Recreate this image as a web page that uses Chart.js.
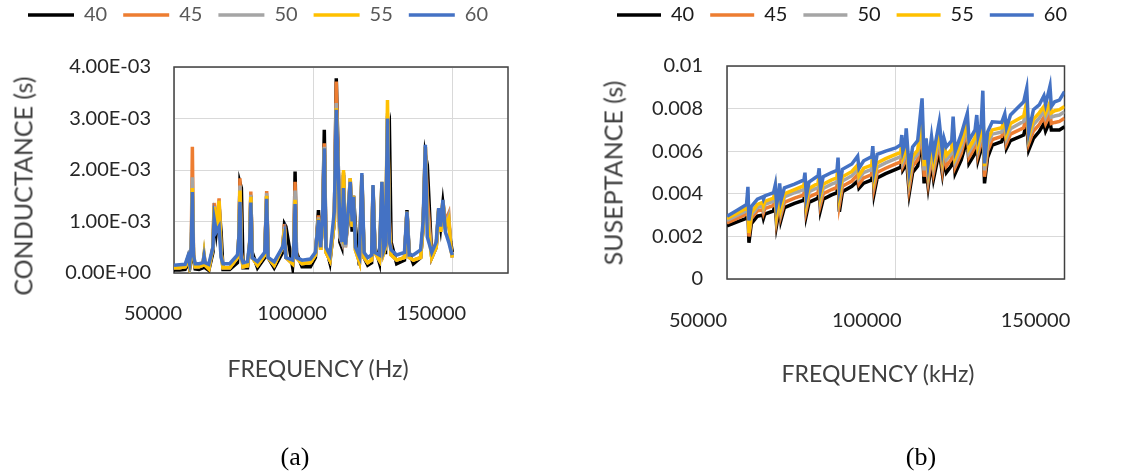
<!DOCTYPE html>
<html>
<head>
<meta charset="utf-8">
<title>Conductance and susceptance spectra</title>
<script src="https://cdn.jsdelivr.net/npm/chart.js@4.4.1/dist/chart.umd.min.js"></script>
<style>
  body { margin: 0; background: #fff; }
  #page { position: relative; width: 1129px; height: 475px; overflow: hidden; font-family: Lato, sans-serif; }
  canvas { position: absolute; top: -11px; }
  #chart-a { left: 0; }
  #chart-b { left: 560px; }
  .axis-title { position: absolute; color: #404040; font-size: 23px; line-height: 1; white-space: nowrap; transform: translate(-50%, -50%); }
  .axis-title.vertical { font-size: 25px; transform: translate(-50%, -50%) rotate(-90deg); }
  .caption { position: absolute; font-family: "Liberation Serif", serif; font-size: 26px; line-height: 1; color: #000; transform: translate(-50%, -50%); }
</style>
</head>
<body>
<div id="page">
  <canvas id="chart-a" width="560" height="486"></canvas>
  <canvas id="chart-b" width="569" height="486"></canvas>
  <div class="axis-title vertical" style="left:23px;top:186px">CONDUCTANCE (s)</div>
  <div class="axis-title" style="left:318px;top:368px">FREQUENCY (Hz)</div>
  <div class="caption" style="left:295px;top:457px">(a)</div>
  <div class="axis-title vertical" style="left:613px;top:173px">SUSEPTANCE (s)</div>
  <div class="axis-title" style="left:878px;top:373px">FREQUENCY (kHz)</div>
  <div class="caption" style="left:921px;top:457px">(b)</div>
</div>
<script>
// --- data (values in mS, i.e. 1E-03 s) ---

const SERIES_LABELS = ['40', '45', '50', '55', '60'];
const SERIES_COLORS = ['#000000', '#ED7D31', '#A5A5A5', '#FFC000', '#4472C4'];

// (a) conductance
const freqA = [
  50000, 52000, 54000, 55000, 55600, 56200, 56600, 57000, 57600, 59000,
  60400, 60800, 61200, 62500, 64000, 64400, 65200, 66200, 66900, 67600,
  70000, 72800, 73300, 73700, 74200, 74800, 76400, 77200, 77600, 78100,
  80000, 82600, 83300, 83800, 86000, 89000, 89700, 90200, 92600, 93100,
  93500, 94000, 96000, 99000, 100800, 101900, 102700, 103400, 104000, 104600,
  106000, 107600, 108300, 108900, 109600, 110300, 110900, 111600, 112600, 113300,
  114000, 114500, 115200, 116600, 117500, 118300, 119600, 121000, 121500, 122200,
  123800, 124700, 125400, 126000, 126700, 127400, 128000, 130000, 132800, 133700,
  134500, 136000, 138600, 139500, 140300, 141000, 142600, 144200, 145100, 145800,
  146600, 147500, 148700, 149400, 150000
];
const conductance40 = [
  0.06, 0.06, 0.07, 0.2, 0.08, 0.3, 1.5, 0.3, 0.08, 0.07,
  0.1, 0.3, 0.1, 0.05, 0.4, 1.2, 0.8, 1.3, 0.8, 0.07,
  0.07, 0.2, 0.6, 1.75, 1.65, 0.1, 0.1, 0.5, 1.5, 0.4,
  0.1, 0.3, 1.5, 0.3, 0.1, 0.4, 0.95, 0.9, 0.12, 0.5,
  1.97, 0.4, 0.12, 0.12, 0.3, 1.22, 0.5, 1.0, 2.78, 0.5,
  0.2, 1.0, 3.78, 2.4, 0.6, 0.5, 1.9, 0.6, 1.0, 1.8,
  0.8, 1.5, 0.9, 0.15, 1.8, 0.3, 0.15, 0.2, 1.6, 0.5,
  0.2, 1.6, 0.4, 0.4, 2.6, 2.8, 0.6, 0.18, 0.25, 1.22,
  0.4, 0.18, 0.3, 0.9, 2.3, 2.1, 0.3, 0.5, 1.2, 0.9,
  1.35, 0.9, 1.0, 0.6, 0.4
];
const conductance45 = [
  0.1, 0.1, 0.12, 0.3, 0.12, 0.5, 2.45, 0.4, 0.12, 0.12,
  0.15, 0.38, 0.15, 0.08, 0.5, 1.36, 0.9, 1.45, 0.4, 0.1,
  0.1, 0.3, 0.7, 1.84, 0.4, 0.12, 0.14, 0.6, 1.58, 0.3,
  0.15, 0.35, 1.59, 0.3, 0.15, 0.5, 0.95, 0.3, 0.18, 0.6,
  1.77, 0.3, 0.18, 0.2, 0.35, 1.12, 0.45, 1.0, 2.52, 0.4,
  0.25, 1.0, 3.72, 2.3, 0.7, 0.6, 1.95, 0.5, 1.1, 1.84,
  0.9, 1.5, 0.45, 0.22, 1.9, 0.3, 0.2, 0.25, 1.65, 0.4,
  0.25, 1.7, 0.4, 0.5, 3.05, 1.0, 0.35, 0.25, 0.3, 1.18,
  0.3, 0.25, 0.3, 0.9, 2.45, 1.5, 0.3, 0.5, 1.25, 0.8,
  1.4, 1.0, 1.16, 0.5, 0.3
];
const conductance50 = [
  0.1, 0.1, 0.12, 0.28, 0.12, 0.4, 1.86, 0.35, 0.12, 0.12,
  0.15, 0.35, 0.15, 0.1, 0.5, 1.3, 0.85, 1.4, 0.4, 0.1,
  0.1, 0.3, 0.7, 1.7, 0.35, 0.12, 0.14, 0.6, 1.52, 0.3,
  0.15, 0.35, 1.55, 0.3, 0.15, 0.5, 0.9, 0.3, 0.18, 0.6,
  1.6, 0.3, 0.18, 0.2, 0.35, 1.08, 0.45, 1.0, 2.45, 0.4,
  0.25, 1.0, 3.3, 2.2, 0.7, 0.6, 1.95, 0.5, 1.1, 1.84,
  0.9, 1.5, 0.45, 0.22, 1.9, 0.3, 0.2, 0.25, 1.68, 0.4,
  0.25, 1.75, 0.4, 0.5, 3.1, 0.8, 0.35, 0.25, 0.3, 1.19,
  0.3, 0.25, 0.3, 0.9, 2.45, 1.2, 0.3, 0.5, 1.25, 0.8,
  1.4, 0.9, 1.1, 0.5, 0.3
];
const conductance55 = [
  0.1, 0.1, 0.12, 0.3, 0.12, 0.4, 1.65, 0.35, 0.12, 0.12,
  0.15, 0.35, 0.15, 0.08, 0.5, 1.28, 0.85, 1.4, 0.4, 0.1,
  0.1, 0.3, 0.7, 1.6, 0.35, 0.12, 0.14, 0.6, 1.48, 0.3,
  0.15, 0.35, 1.5, 0.3, 0.15, 0.5, 0.85, 0.3, 0.18, 0.6,
  1.42, 0.3, 0.18, 0.2, 0.35, 1.05, 0.45, 1.0, 2.42, 0.4,
  0.25, 1.0, 3.2, 2.2, 0.8, 0.7, 2.0, 0.6, 1.1, 1.84,
  0.9, 1.5, 0.45, 0.22, 1.9, 0.3, 0.2, 0.25, 1.7, 0.4,
  0.25, 1.77, 0.4, 0.5, 3.36, 0.8, 0.35, 0.25, 0.3, 1.19,
  0.3, 0.25, 0.3, 0.9, 2.45, 1.0, 0.3, 0.5, 1.25, 0.8,
  1.4, 0.9, 1.05, 0.5, 0.3
];
const conductance60 = [
  0.15, 0.16, 0.17, 0.33, 0.18, 0.5, 1.57, 0.35, 0.18, 0.18,
  0.2, 0.33, 0.2, 0.17, 0.5, 1.06, 0.8, 0.9, 0.3, 0.18,
  0.18, 0.35, 0.7, 1.38, 0.3, 0.2, 0.22, 0.6, 1.37, 0.3,
  0.22, 0.4, 1.44, 0.3, 0.22, 0.5, 0.72, 0.3, 0.25, 0.6,
  1.34, 0.3, 0.25, 0.27, 0.4, 1.03, 0.5, 1.1, 2.42, 0.5,
  0.35, 1.2, 3.17, 2.2, 0.9, 0.6, 1.65, 0.55, 1.2, 1.77,
  1.0, 1.48, 0.5, 0.32, 1.94, 0.4, 0.3, 0.35, 1.71, 0.4,
  0.35, 1.77, 0.45, 0.55, 3.0, 0.6, 0.45, 0.35, 0.4, 1.19,
  0.35, 0.35, 0.45, 1.0, 2.49, 0.7, 0.4, 0.6, 1.26, 0.9,
  1.42, 0.8, 0.6, 0.45, 0.35
];
const xTicksA = [50000, 100000, 150000];
const yTicksA = [0, 1, 2, 3, 4];
const yTickLabelsA = ['0.00E+00', '1.00E-03', '2.00E-03', '3.00E-03', '4.00E-03'];

// (b) susceptance
const freqB = [
  50000, 53000, 55800, 56200, 56500, 57200, 59000, 60600, 60800, 61200,
  63800, 64300, 64700, 65300, 65600, 66000, 67000, 70000, 72800, 73100,
  73500, 74300, 77000, 77300, 77700, 78500, 81000, 82600, 82900, 83300,
  84200, 87000, 88700, 89100, 90500, 92900, 93200, 93600, 94500, 97000,
  100000, 101500, 101800, 102100, 102800, 103100, 104000, 105000, 106500, 107800,
  108400, 109000, 109600, 110600, 111200, 112900, 113800, 114300, 115000, 116600,
  117000, 117600, 119400, 121200, 121700, 123500, 124000, 124400, 125300, 125800,
  126300, 127200, 128600, 131400, 132300, 132800, 134000, 137900, 138800, 139400,
  140800, 142500, 143900, 144400, 145700, 146100, 147100, 148500, 150000
];
const susceptance40 = [
  2.5, 2.68, 2.85, 3.3, 1.7, 2.6, 2.95, 3.0, 2.85, 3.05,
  3.2, 3.6, 2.54, 3.1, 3.7, 2.77, 3.35, 3.55, 3.7, 4.2,
  3.0, 3.6, 3.8, 4.4, 3.24, 3.75, 3.95, 4.05, 4.7, 3.16,
  4.1, 4.35, 4.6, 4.26, 4.5, 4.65, 5.3, 4.02, 4.75, 4.95,
  5.15, 5.25, 5.7, 5.12, 5.3, 5.8, 4.02, 5.0, 5.3, 6.6,
  4.49, 5.2, 4.33, 5.5, 4.7, 6.0, 4.96, 5.6, 5.0, 5.35,
  6.4, 4.96, 5.59, 6.6, 5.43, 5.9, 6.6, 5.59, 6.1, 7.2,
  4.49, 5.7, 6.29, 6.45, 6.9, 6.13, 6.5, 6.76, 7.3, 6.06,
  6.6, 6.92, 7.3, 6.95, 7.4, 7.0, 7.0, 7.0, 7.15
];
const susceptance45 = [
  2.63, 2.85, 3.05, 3.6, 2.0, 2.85, 3.2, 3.25, 3.1, 3.3,
  3.45, 3.9, 2.8, 3.4, 4.0, 3.0, 3.6, 3.8, 3.95, 4.5,
  3.25, 3.85, 4.05, 4.7, 3.5, 4.0, 4.2, 4.3, 5.0, 3.5,
  4.35, 4.6, 4.9, 4.45, 4.75, 4.9, 5.6, 4.3, 5.0, 5.2,
  5.4, 5.5, 6.0, 5.3, 5.55, 6.2, 4.3, 5.3, 5.6, 7.1,
  4.8, 5.5, 4.6, 5.85, 5.0, 6.4, 5.2, 5.9, 5.3, 5.65,
  6.8, 5.25, 5.9, 7.0, 5.7, 6.2, 6.9, 5.85, 6.4, 7.6,
  4.8, 6.0, 6.55, 6.7, 7.15, 6.35, 6.8, 7.1, 7.7, 6.35,
  6.95, 7.25, 7.6, 7.3, 7.75, 7.3, 7.35, 7.4, 7.55
];
const susceptance50 = [
  2.75, 2.98, 3.2, 3.8, 2.2, 3.0, 3.35, 3.45, 3.3, 3.5,
  3.65, 4.1, 3.0, 3.6, 4.2, 3.2, 3.85, 4.05, 4.2, 4.7,
  3.5, 4.1, 4.3, 4.9, 3.75, 4.25, 4.45, 4.55, 5.2, 3.8,
  4.6, 4.85, 5.15, 4.7, 5.0, 5.15, 5.8, 4.6, 5.25, 5.45,
  5.65, 5.75, 6.2, 5.5, 5.8, 6.4, 4.6, 5.55, 5.85, 7.4,
  5.1, 5.8, 4.9, 6.1, 5.3, 6.65, 5.5, 6.1, 5.6, 5.9,
  7.05, 5.5, 6.15, 7.2, 5.95, 6.45, 7.1, 6.1, 6.65, 7.9,
  5.1, 6.3, 6.8, 6.9, 7.35, 6.6, 7.05, 7.4, 8.0, 6.6,
  7.25, 7.55, 7.9, 7.6, 8.05, 7.6, 7.65, 7.7, 7.85
];
const susceptance55 = [
  2.84, 3.09, 3.33, 3.95, 2.16, 3.1, 3.5, 3.6, 3.45, 3.65,
  3.8, 4.2, 3.1, 3.75, 4.3, 3.35, 4.0, 4.2, 4.38, 4.8,
  3.6, 4.25, 4.5, 5.0, 3.9, 4.45, 4.65, 4.75, 5.4, 3.95,
  4.8, 5.05, 5.35, 4.85, 5.2, 5.35, 5.95, 4.75, 5.45, 5.65,
  5.85, 5.95, 6.4, 5.7, 6.0, 6.6, 4.8, 5.75, 6.05, 7.7,
  5.3, 6.0, 5.1, 6.3, 5.5, 6.9, 5.7, 6.3, 5.8, 6.1,
  7.25, 5.7, 6.4, 7.4, 6.15, 6.65, 7.3, 6.3, 6.85, 8.1,
  5.3, 6.5, 7.0, 7.1, 7.5, 6.8, 7.3, 7.65, 8.3, 6.7,
  7.5, 7.8, 8.1, 7.8, 8.3, 7.8, 7.9, 7.95, 8.1
];
const susceptance60 = [
  2.95, 3.23, 3.5, 4.33, 2.75, 3.4, 3.75, 3.86, 3.75, 3.9,
  4.05, 4.41, 3.5, 4.0, 4.49, 3.7, 4.28, 4.45, 4.65, 4.99,
  3.9, 4.55, 4.85, 5.2, 4.2, 4.8, 5.0, 5.1, 5.7, 4.3,
  5.15, 5.4, 5.77, 5.2, 5.55, 5.75, 6.24, 5.1, 5.85, 6.0,
  6.15, 6.3, 6.76, 6.0, 6.35, 7.07, 5.12, 6.2, 6.5, 8.48,
  5.6, 6.6, 5.4, 6.68, 5.9, 7.38, 6.0, 6.6, 6.2, 6.5,
  7.62, 6.0, 6.8, 7.78, 6.5, 7.0, 7.7, 6.7, 7.25, 8.84,
  5.43, 6.9, 7.38, 7.35, 7.75, 7.1, 7.7, 8.32, 8.95, 6.9,
  7.95, 8.17, 8.6, 8.2, 9.06, 8.1, 8.32, 8.4, 8.8
];
const xTicksB = [50000, 100000, 150000];
const yTicksB = [0, 2, 4, 6, 8, 10];
const yTickLabelsB = ['0', '0.002', '0.004', '0.006', '0.008', '0.01'];

// --- chart building ---

Chart.defaults.font.family = 'Lato, sans-serif';

// pushes the plot area down below the legend row
const legendGap = extra => ({
    id: 'legendGap',
    beforeInit(chart) {
        const fit = chart.legend.fit;
        chart.legend.fit = function () {
            fit.call(this);
            this.height += extra;
        };
    }
});

// Excel-style dark frame around the plot area
const plotFrame = {
    id: 'plotFrame',
    beforeDatasetsDraw(chart) {
        const { ctx, chartArea: a } = chart;
        ctx.save();
        ctx.strokeStyle = '#404040';
        ctx.lineWidth = 1.5;
        ctx.strokeRect(a.left, a.top, a.right - a.left, a.bottom - a.top);
        ctx.restore();
    }
};

const SpectrumApp = {
    init() {
        this.renderChart('chart-a', {
            freq: freqA,
            series: [conductance40, conductance45, conductance50, conductance55, conductance60],
            xMax: 170000, xTicks: xTicksA,
            yMax: 4, yTicks: yTicksA, yLabels: yTickLabelsA,
            padLeft: 8, padRight: 52, yWidth: 166, xHeight: 202,
            xTickPad: 28.5, xLabelOffset: -21, yTickPad: 23,
            legendExtra: 32, boxWidth: 46, legendColor: '#595959'
        });
        this.renderChart('chart-b', {
            freq: freqB,
            series: [susceptance40, susceptance45, susceptance50, susceptance55, susceptance60],
            xMax: 150000, xTicks: xTicksB,
            yMax: 10, yTicks: yTicksB, yLabels: yTickLabelsB,
            padLeft: 38, padRight: 43, yWidth: 129, xHeight: 196,
            xTickPad: 29.7, xLabelOffset: -29, yTickPad: 24,
            legendExtra: 31, boxWidth: 44, legendColor: '#1a1a1a'
        });
    },

    renderChart(id, c) {
        const last = c.series.length - 1;
        const datasets = c.series.map((vals, s) => ({
            label: SERIES_LABELS[s],
            data: c.freq.map((f, i) => ({ x: f, y: vals[i] })),
            borderColor: SERIES_COLORS[s],
            backgroundColor: SERIES_COLORS[s],
            pointBorderColor: SERIES_COLORS[s],
            borderWidth: 3.5,
            pointBorderWidth: 3.5,
            pointRadius: 0,
            tension: 0,
            order: last - s // 60 on top, 40 at the back
        }));

        new Chart(document.getElementById(id), {
            type: 'line',
            data: { datasets },
            options: {
                responsive: false,
                animation: false,
                layout: { padding: { left: c.padLeft, right: c.padRight, top: 0, bottom: 0 } },
                plugins: {
                    legend: {
                        position: 'top',
                        labels: {
                            usePointStyle: true,
                            pointStyle: 'line',
                            pointStyleWidth: c.boxWidth,
                            padding: 16,
                            color: c.legendColor,
                            font: { size: 20 },
                            sort: (a, b) => a.datasetIndex - b.datasetIndex
                        }
                    },
                    tooltip: { enabled: false }
                },
                scales: {
                    x: {
                        type: 'linear',
                        min: 50000,
                        max: c.xMax,
                        afterBuildTicks: s => { s.ticks = c.xTicks.map(v => ({ value: v })); },
                        afterFit: s => { s.height = c.xHeight; },
                        grid: { color: '#D9D9D9', lineWidth: 1, drawTicks: false },
                        border: { display: false },
                        ticks: {
                            padding: c.xTickPad,
                            labelOffset: c.xLabelOffset,
                            maxRotation: 0,
                            autoSkip: false,
                            color: '#262626',
                            font: { size: 20 },
                            callback: v => String(v)
                        }
                    },
                    y: {
                        min: 0,
                        max: c.yMax,
                        afterBuildTicks: s => { s.ticks = c.yTicks.map(v => ({ value: v })); },
                        afterFit: s => { s.width = c.yWidth; },
                        grid: { color: '#D9D9D9', lineWidth: 1, drawTicks: false },
                        border: { display: false },
                        ticks: {
                            padding: c.yTickPad,
                            color: '#262626',
                            font: { size: 20 },
                            callback: (v, i) => c.yLabels[i]
                        }
                    }
                }
            },
            plugins: [legendGap(c.legendExtra), plotFrame]
        });
    }
};

SpectrumApp.init();
</script>
</body>
</html>
